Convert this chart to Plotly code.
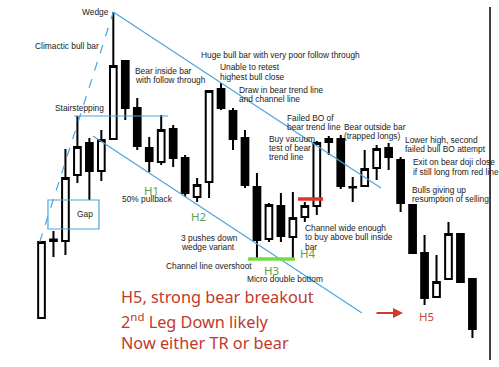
import plotly.graph_objects as go

# ---- data (price units, arbitrary scale) ----
bar_index = list(range(37))
opens  = [49, 126, 126, 192, 224, 196, 228, 306, 259, 219, 205, 238, 209, 170, 185, 278, 256, 229, 180, 128, 161, 130, 150, 161, 225, 228, 180, 181, 199, 219, 207, 162, 114, 70, 88, 133, 88]
highs  = [125, 136, 218, 251, 229, 237, 355, 307, 269, 230, 252, 242, 212, 189, 276, 284, 259, 237, 194, 164, 174, 175, 165, 226, 231, 232, 190, 217, 222, 224, 210, 162, 132, 112, 145, 133, 88]
lows   = [49, 110, 112, 184, 167, 186, 228, 247, 217, 195, 202, 200, 170, 165, 169, 257, 217, 179, 108, 125, 125, 107, 145, 152, 212, 178, 165, 181, 187, 197, 155, 114, 62, 70, 88, 84, 29]
closes = [125, 127.5, 189, 220, 196, 227, 301, 259, 221, 206, 237, 209, 174, 182, 276, 259, 228, 182, 127, 162, 131, 149, 161, 224, 228, 181, 179.5, 198, 218, 210, 164, 114, 69, 85, 133, 85, 38]

small_notes = [
    ("Wedge", 3.2, 355), ("Climactic bull bar", -0.72, 321), ("Stairstepping", 0.95, 259),
    ("Bear inside bar", 7.62, 296), ("with follow through", 7.62, 287),
    ("Huge bull bar with very poor follow through", 13.14, 312),
    ("Unable to retest", 14.73, 300), ("highest bull close", 14.73, 290),
    ("Draw in bear trend line", 16.31, 277), ("and channel line", 16.31, 268),
    ("Failed BO of", 20.32, 249), ("bear trend line", 20.32, 240),
    ("Bear outside bar", 25.08, 240), ("(trapped longs)", 25.08, 231),
    ("Buy vacuum", 18.82, 228), ("test of bear", 18.82, 219), ("trend line", 18.82, 210),
    ("Lower high, second", 30.18, 227), ("failed bull BO attempt", 30.18, 218),
    ("Exit on bear doji close", 30.85, 205), ("if still long from red line", 30.85, 195),
    ("Bulls giving up", 30.77, 177), ("resumption of selling", 30.77, 168),
    ("50% pullback", 6.54, 168), ("3 pushes down", 11.47, 129), ("wedge variant", 11.47, 120),
    ("Channel line overshoot", 10.21, 101), ("Micro double bottom", 16.98, 88),
    ("Channel wide enough", 21.83, 139), ("to buy above bull inside", 21.83, 130), ("bar", 21.83, 120),
    ("Gap", 2.78, 153),
]
h_labels = [("H1", 8.38, 177, "#5f9e4c"), ("H2", 12.3, 151, "#5f9e4c"), ("H3", 18.4, 97, "#5f9e4c"),
            ("H4", 21.41, 114, "#5f9e4c"), ("H5", 31.35, 51, "#c8453a")]
big_lines = [("H5, strong bear breakout", 70), ("2<sup>nd</sup> Leg Down likely", 46), ("Now either TR or bear", 24)]

fig = go.Figure()
fig.add_trace(go.Candlestick(
    x=bar_index, open=opens, high=highs, low=lows, close=closes,
    increasing=dict(line=dict(color="black", width=2), fillcolor="white"),
    decreasing=dict(line=dict(color="black", width=2), fillcolor="black"),
    whiskerwidth=0, hoverinfo="skip", showlegend=False,
))

blue = "#4aa6de"
shapes = [
    dict(type="line", x0=-0.15, y0=125, x1=6.0, y1=355, line=dict(color=blue, width=1.2, dash="dash")),
    dict(type="line", x0=6.0, y0=355, x1=28.36, y1=179, line=dict(color=blue, width=1.2)),
    dict(type="line", x0=2.72, y0=251, x1=10.57, y1=251, line=dict(color=blue, width=1.2)),
    dict(type="line", x0=4.3, y0=231, x1=26.77, y1=54, line=dict(color=blue, width=1.2)),
    dict(type="rect", x0=0.54, y0=138, x1=4.8, y1=167, line=dict(color=blue, width=1.2)),
    dict(type="line", x0=17.25, y0=108, x1=21.18, y1=108, line=dict(color="#72dc40", width=3.5)),
    dict(type="line", x0=21.43, y0=168, x1=23.52, y1=168, line=dict(color="#e0352b", width=3.5)),
    dict(type="line", x0=37.47, y0=7, x1=37.47, y1=360, line=dict(color="black", width=1.5)),
]
for s in shapes:
    s.update(xref="x", yref="y", layer="above")

annotations = []
for t, x, y in small_notes:
    annotations.append(dict(x=x, y=y, text=t, showarrow=False, xanchor="left", yanchor="middle",
                            font=dict(family="Liberation Sans, Arial", size=8.4, color="#1a1a1a")))
for t, x, y, c in h_labels:
    annotations.append(dict(x=x, y=y, text=t, showarrow=False, xanchor="left", yanchor="middle",
                            font=dict(family="Noto Sans", size=11.5, color=c)))
for t, y in big_lines:
    annotations.append(dict(x=6.45, y=y, text=t, showarrow=False, xanchor="left", yanchor="middle",
                            font=dict(family="Noto Sans", size=16.3, color="#c0392b")))
annotations.append(dict(x=30.2, y=54, ax=27.86, ay=54, axref="x", ayref="y", text="", showarrow=True,
                        arrowhead=2, arrowsize=1, arrowwidth=2, arrowcolor="#d23a2e"))

fig.update_layout(
    width=499, height=367, margin=dict(l=0, r=0, t=0, b=0),
    paper_bgcolor="white", plot_bgcolor="white",
    xaxis=dict(range=[-3.467, 38.22], visible=False, rangeslider=dict(visible=False), fixedrange=True),
    yaxis=dict(range=[0, 367], visible=False, fixedrange=True),
    boxgap=0.2, shapes=shapes, annotations=annotations,
)
fig.write_html("out.html")
